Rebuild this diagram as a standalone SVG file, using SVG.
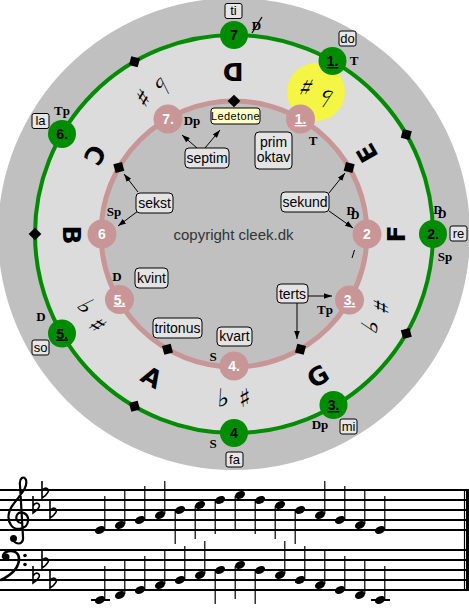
<svg xmlns="http://www.w3.org/2000/svg" width="469" height="615" viewBox="0 0 469 615">
<style>
.gl{fill:none;stroke:#008c00;stroke-width:4}
.pl{fill:none;stroke:#c89696;stroke-width:5}
.gn circle{fill:#008c00}
.pn circle{fill:#c89696}
.nt{font-family:"Liberation Sans",Arial,sans-serif;font-weight:bold;font-size:14px;text-anchor:middle}
.gn text{fill:#000}
.pn text{fill:#fff}
.fn{font-family:"Liberation Serif","Times New Roman",serif;font-weight:bold;font-size:13px;text-anchor:middle}
.sol rect{fill:#e6e6e6;stroke:#000;stroke-width:1}
.sol text{font-family:"Liberation Sans",Arial,sans-serif;font-size:13px;text-anchor:middle}
.co rect{fill:#e4e4e4;stroke:#000;stroke-width:1}
.co text{font-family:"Liberation Sans",Arial,sans-serif;font-size:14px;text-anchor:middle}
.let{font-family:"DejaVu Sans",sans-serif;font-weight:bold;font-size:25px;text-anchor:middle}
.acc{font-family:"DejaVu Sans",sans-serif;font-weight:bold;font-size:25px;text-anchor:middle}
.arr{stroke:#000;stroke-width:1;fill:none;marker-end:url(#ah)}
.st{stroke:#000;stroke-width:2;fill:none}
.stem{stroke:#000;stroke-width:1.2;fill:none}
</style>
<defs>
<marker id="ah" viewBox="0 0 10 7" refX="10" refY="3.5" markerWidth="8" markerHeight="5.6" markerUnits="userSpaceOnUse" orient="auto"><path d="M0,0 L10,3.5 L0,7 z" fill="#000"/></marker>
<rect id="dia" x="-4.5" y="-4.5" width="9" height="9" fill="#000"/>
<ellipse id="nh" rx="5.3" ry="3.6" transform="rotate(-25)" fill="#000"/>
<path id="flat" d="M0,-14 V3 C6,-1 8,-5 5,-6.5 C3,-7.5 1,-5.5 0,-4" fill="none" stroke="#000" stroke-width="1.6"/>
</defs>

<g id="background">
<circle cx="234" cy="234" r="236" fill="#c0c0c0"/>
<circle cx="234" cy="234" r="199" fill="#dcdcdc"/>
<circle cx="234" cy="234" r="133" fill="#c0c0c0"/>
<circle cx="316" cy="92" r="29" fill="#f5f546"/>
</g>

<g id="letters" class="let">
<text transform="translate(233 72) rotate(180)" y="9">D</text>
<text transform="translate(367 153) rotate(240)" y="9">E</text>
<text transform="translate(396 234) rotate(270)" y="9">F</text>
<text transform="translate(318 376) rotate(330)" y="9">G</text>
<text transform="translate(152 377) rotate(30)" y="9">A</text>
<text transform="translate(72 235) rotate(90)" y="9">B</text>
<text transform="translate(95 155) rotate(120)" y="9">C</text>
</g>

<g id="accidentals" class="acc">
<g transform="rotate(26.3 234 234)"><text transform="translate(234 70) rotate(180)" y="9">♯</text></g>
<g transform="rotate(33.7 234 234)"><text transform="translate(234 70) rotate(180)" y="9">♭</text></g>
<g transform="rotate(116.3 234 234)"><text transform="translate(234 70) rotate(180)" y="9">♯</text></g>
<g transform="rotate(123.7 234 234)"><text transform="translate(234 70) rotate(180)" y="9">♭</text></g>
<g transform="rotate(176.3 234 234)"><text transform="translate(234 70) rotate(180)" y="9">♯</text></g>
<g transform="rotate(183.7 234 234)"><text transform="translate(234 70) rotate(180)" y="9">♭</text></g>
<g transform="rotate(236.3 234 234)"><text transform="translate(234 70) rotate(180)" y="9">♯</text></g>
<g transform="rotate(243.7 234 234)"><text transform="translate(234 70) rotate(180)" y="9">♭</text></g>
<g transform="rotate(326.3 234 234)"><text transform="translate(234 70) rotate(180)" y="9">♯</text></g>
<g transform="rotate(333.7 234 234)"><text transform="translate(234 70) rotate(180)" y="9">♭</text></g>
<line x1="352" y1="258" x2="354.5" y2="250" stroke="#000" stroke-width="1"/>
</g>

<g id="circles">
<circle class="gl" cx="234" cy="234" r="199"/>
<circle class="pl" cx="234" cy="234" r="133"/>
</g>

<text id="copyright" x="233.5" y="240" font-family="Liberation Sans, Arial, sans-serif" font-size="15" fill="#333" text-anchor="middle">copyright cleek.dk</text>

<g id="connectors">
<line class="arr" x1="197" y1="148" x2="182" y2="135"/>
<line class="arr" x1="205" y1="148" x2="220" y2="130"/>
<line class="arr" x1="138" y1="192" x2="124" y2="174"/>
<line class="arr" x1="138" y1="211" x2="118" y2="226"/>
<line class="arr" x1="329" y1="193" x2="345" y2="173"/>
<line class="arr" x1="329" y1="211" x2="353" y2="228"/>
<line class="arr" x1="308" y1="296" x2="332" y2="296"/>
<line class="arr" x1="297" y1="303" x2="297" y2="339"/>
</g>

<g id="diamonds">
<use href="#dia" transform="translate(406.3 134.5) rotate(105)"/>
<use href="#dia" transform="translate(406.3 333.5) rotate(165)"/>
<use href="#dia" transform="translate(134.5 406.3) rotate(255)"/>
<use href="#dia" transform="translate(35 234) rotate(315)"/>
<use href="#dia" transform="translate(134.5 61.7) rotate(375)"/>
<use href="#dia" transform="translate(234 101) rotate(45)"/>
<use href="#dia" transform="translate(349.2 167.5) rotate(105)"/>
<use href="#dia" transform="translate(300.5 349.2) rotate(195)"/>
<use href="#dia" transform="translate(167.5 349.2) rotate(255)"/>
<use href="#dia" transform="translate(118.8 167.5) rotate(345)"/>
</g>

<g id="green-7" class="gn"><circle cx="234" cy="35" r="14"/><text class="nt" x="234" y="40">7</text></g>
<g id="green-1" class="gn"><circle cx="332.5" cy="61" r="14"/><text class="nt" x="332.5" y="66" text-decoration="underline">1.</text></g>
<g id="green-2" class="gn"><circle cx="433" cy="234" r="14"/><text class="nt" x="433" y="239">2.</text></g>
<g id="green-3" class="gn"><circle cx="333.5" cy="405" r="14"/><text class="nt" x="333.5" y="410" text-decoration="underline">3.</text></g>
<g id="green-4" class="gn"><circle cx="234" cy="433" r="14"/><text class="nt" x="234" y="438">4</text></g>
<g id="green-5" class="gn"><circle cx="62" cy="333.5" r="14"/><text class="nt" x="62" y="338.5" text-decoration="underline">5.</text></g>
<g id="green-6" class="gn"><circle cx="62" cy="134" r="14"/><text class="nt" x="62" y="139">6.</text></g>

<g id="pink-1" class="pn"><circle cx="300.5" cy="119" r="14.5"/><text class="nt" x="300.5" y="124" text-decoration="underline">1.</text></g>
<g id="pink-2" class="pn"><circle cx="367" cy="234" r="14.5"/><text class="nt" x="367" y="239">2</text></g>
<g id="pink-3" class="pn"><circle cx="349.5" cy="300" r="14.5"/><text class="nt" x="349.5" y="305" text-decoration="underline">3.</text></g>
<g id="pink-4" class="pn"><circle cx="234" cy="366" r="14.5"/><text class="nt" x="234" y="371">4.</text></g>
<g id="pink-5" class="pn"><circle cx="119.5" cy="299.5" r="14.5"/><text class="nt" x="119.5" y="304.5" text-decoration="underline">5.</text></g>
<g id="pink-6" class="pn"><circle cx="102" cy="234" r="14.5"/><text class="nt" x="102" y="239">6</text></g>
<g id="pink-7" class="pn"><circle cx="168" cy="119" r="14.5"/><text class="nt" x="168" y="124">7.</text></g>

<g id="functions" class="fn">
<text x="354" y="65">T</text>
<text x="62" y="115">Tp</text>
<text x="440" y="214" font-size="12">D<tspan dx="-4.5" dy="3.5">D</tspan></text>
<text x="445" y="261">Sp</text>
<text x="320" y="429">Dp</text>
<text x="213" y="448">S</text>
<text x="41" y="321">D</text>
<text x="256.5" y="29.5">D</text><line x1="252" y1="33" x2="262" y2="17" stroke="#000" stroke-width="1.2"/>
<text x="313" y="144.5">T</text>
<text x="192" y="124.5">Dp</text>
<text x="353" y="215" font-size="12">D<tspan dx="-4.5" dy="3.5">D</tspan></text>
<text x="325" y="314">Tp</text>
<text x="213" y="360.5">S</text>
<text x="117" y="280.5">D</text>
<text x="114" y="216">Sp</text>
</g>

<g id="solfege" class="sol">
<g id="sol-ti"><rect x="225" y="3.5" width="17" height="15" rx="2"/><text x="233.5" y="15">ti</text></g>
<g id="sol-do"><rect x="339" y="31" width="17" height="15" rx="2"/><text x="347.5" y="42.5">do</text></g>
<g id="sol-re"><rect x="450" y="226" width="17" height="15" rx="2"/><text x="458.5" y="237.5">re</text></g>
<g id="sol-mi"><rect x="340" y="419" width="17" height="15" rx="2"/><text x="348.5" y="430.5">mi</text></g>
<g id="sol-fa"><rect x="226" y="452" width="17" height="15" rx="2"/><text x="234.5" y="463.5">fa</text></g>
<g id="sol-so"><rect x="32" y="340" width="17" height="15" rx="2"/><text x="40.5" y="351.5">so</text></g>
<g id="sol-la"><rect x="32" y="113.5" width="17" height="15" rx="2"/><text x="40.5" y="125">la</text></g>
</g>

<g id="callouts" class="co">
<g id="septim"><rect x="185" y="148" width="44" height="20" rx="4"/><text x="207" y="163">septim</text></g>
<g id="ledetone"><rect x="211" y="108" width="49" height="16" rx="3" style="fill:#ffffc8"/><text x="235.5" y="120" style="font-size:11px;letter-spacing:0.4px">Ledetone</text></g>
<g id="prim-oktav"><rect x="255" y="132" width="37" height="37" rx="4"/><text x="273.5" y="147">prim</text><text x="273.5" y="162">oktav</text></g>
<g id="sekst"><rect x="136" y="193" width="37" height="20" rx="4"/><text x="154.5" y="207.5">sekst</text></g>
<g id="kvint"><rect x="135" y="268" width="33" height="20" rx="4"/><text x="151.5" y="282.5">kvint</text></g>
<g id="sekund"><rect x="281" y="192" width="48" height="20" rx="4"/><text x="305" y="206.5">sekund</text></g>
<g id="terts"><rect x="277" y="284" width="31" height="19" rx="4"/><text x="292.5" y="298.5">terts</text></g>
<g id="tritonus"><rect x="153" y="318" width="49" height="20" rx="4"/><text x="177.5" y="332.5">tritonus</text></g>
<g id="kvart"><rect x="217" y="327" width="35" height="19" rx="4"/><text x="234.5" y="341">kvart</text></g>
</g>

<g id="staff">
<path class="st" d="M0 490H467M0 500H467M0 510H467M0 520H467M0 530H467M0 550H467M0 560H467M0 570H467M0 580H467M0 590H467"/>
<line x1="464.5" y1="489" x2="464.5" y2="591" stroke="#000" stroke-width="1.2"/>
<line x1="467.5" y1="489" x2="467.5" y2="591" stroke="#000" stroke-width="3"/>
<g id="treble-clef">
<path d="M13,538 C13,545 24,546 23,537 L20,485 C19,478 24,475 26,480 C28,487 21,494 15,502 C9,509 6,518 11,525 C15,531 27,530 28,521 C29,513 20,510 17,515 C15,519 18,523 21,523" fill="none" stroke="#000" stroke-width="2.2" stroke-linecap="round"/>
<circle cx="13.5" cy="538.5" r="3.5"/>
</g>
<g id="bass-clef">
<path d="M3,557 C3,549 19,548 19,559 C19,569 11,575 1,580" fill="none" stroke="#000" stroke-width="2.6" stroke-linecap="round"/>
<circle cx="6" cy="557" r="3.5"/>
<circle cx="25" cy="555.5" r="1.8"/>
<circle cx="25" cy="564.5" r="1.8"/>
</g>
<g id="key-signature">
<use href="#flat" x="33" y="510"/><use href="#flat" x="42" y="495"/><use href="#flat" x="50" y="515"/>
<use href="#flat" x="33" y="580"/><use href="#flat" x="42" y="565"/><use href="#flat" x="50" y="585"/>
</g>
<g id="notes">
<use href="#nh" x="100" y="530"/><use href="#nh" x="120" y="525"/><use href="#nh" x="140" y="520"/><use href="#nh" x="160" y="515"/>
<use href="#nh" x="180" y="510"/><use href="#nh" x="200" y="505"/><use href="#nh" x="220" y="500"/><use href="#nh" x="240" y="495"/>
<use href="#nh" x="260" y="500"/><use href="#nh" x="280" y="505"/><use href="#nh" x="300" y="510"/><use href="#nh" x="320" y="515"/>
<use href="#nh" x="340" y="520"/><use href="#nh" x="360" y="525"/><use href="#nh" x="380" y="530"/>
<use href="#nh" x="100" y="600"/><use href="#nh" x="120" y="595"/><use href="#nh" x="140" y="590"/><use href="#nh" x="160" y="585"/>
<use href="#nh" x="180" y="580"/><use href="#nh" x="200" y="575"/><use href="#nh" x="220" y="570"/><use href="#nh" x="240" y="565"/>
<use href="#nh" x="260" y="570"/><use href="#nh" x="280" y="575"/><use href="#nh" x="300" y="580"/><use href="#nh" x="320" y="585"/>
<use href="#nh" x="340" y="590"/><use href="#nh" x="360" y="595"/><use href="#nh" x="380" y="600"/>
<path class="stem" d="M104.8 529V496M124.8 524V491M144.8 519V486M164.8 514V481M175.2 511V544M195.2 506V539M215.2 501V534M235.2 496V529M255.2 501V534M275.2 506V539M295.2 511V544M324.8 514V481M344.8 519V486M364.8 524V491M384.8 529V496"/>
<path class="stem" d="M104.8 599V566M124.8 594V561M144.8 589V556M164.8 584V551M184.8 579V546M204.8 574V541M215.2 571V604M235.2 566V599M255.2 571V604M284.8 574V541M304.8 579V546M324.8 584V551M344.8 589V556M364.8 594V561M384.8 599V566"/>
<path class="st" d="M91 600H110M371 600H390"/>
</g>
</g>
</svg>
